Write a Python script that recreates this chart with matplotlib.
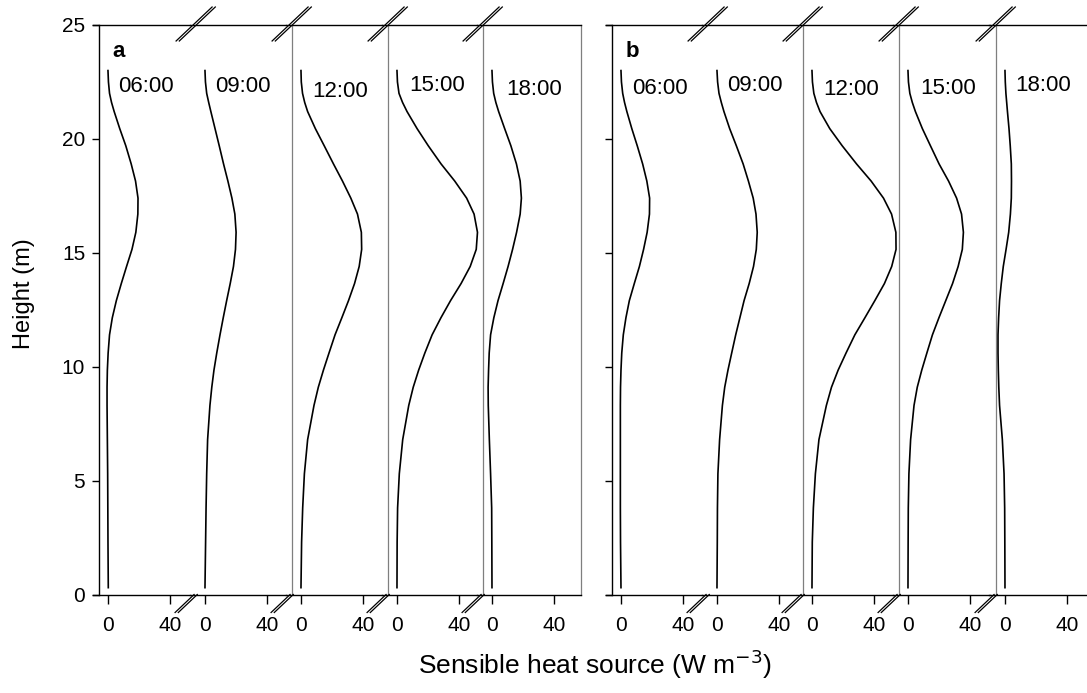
import numpy as np
import matplotlib
matplotlib.use("Agg")
import matplotlib.pyplot as plt
from matplotlib.lines import Line2D

plt.rcParams['font.family'] = ['Liberation Sans', 'DejaVu Sans']

# ---------------- data ----------------
height = [0.3, 2.3, 3.8, 5.3, 6.8, 8.3, 9.1, 9.85, 10.6, 11.4, 12.15, 12.9, 13.65,
          14.4, 15.15, 15.9, 16.7, 17.4, 18.15, 18.9, 19.7, 20.45, 21.2, 21.6,
          22.0, 22.5, 23.0]
times = ["06:00", "09:00", "12:00", "15:00", "18:00"]

a_0600 = [0.2, 0, -0.1, -0.2, -0.4, -0.6, -0.6, -0.4, 0.1, 1, 2.8, 5.4, 8.6, 12, 15.5, 18, 19.3, 19.4, 17.8, 15, 11.5, 7.6, 4, 2.3, 1, 0.3, 0]
a_0900 = [0, 0.4, 0.7, 1.1, 1.7, 3.2, 4.4, 5.8, 7.6, 9.7, 11.8, 14, 16.3, 18.4, 19.7, 20.1, 19.3, 17.4, 14.8, 12, 9.2, 6.5, 3.8, 2.4, 1.1, 0.3, 0]
a_1200 = [0, 0.4, 1.1, 2.2, 4.3, 8.4, 11.2, 14.5, 18.1, 22, 26.4, 30.7, 34.6, 37.6, 39.2, 39, 36.5, 32.2, 26.8, 21, 15, 9.3, 4.3, 2.4, 1.0, 0.2, 0]
a_1500 = [0, 0.1, 0.4, 1.5, 3.7, 7.6, 10.5, 14, 18, 22.7, 28.4, 34.6, 41.4, 47.3, 51.2, 52, 49.8, 45, 37.3, 28.5, 20.2, 13, 6.5, 3.6, 1.3, 0.3, 0]
a_1800 = [0, -0.1, -0.2, -0.9, -1.7, -2.4, -2.5, -2.2, -1.8, -0.9, 1.2, 3.9, 7.2, 10.4, 13.3, 15.9, 18.2, 19, 18.2, 15.8, 12.2, 8.2, 4.3, 2.5, 1.1, 0.3, 0]

b_0600 = [0, -0.3, -0.4, -0.4, -0.4, -0.4, -0.3, 0, 0.5, 1.5, 3.2, 5.4, 8.6, 11.9, 14.6, 16.9, 18.4, 18.5, 16.7, 14, 10.5, 7, 3.8, 2.3, 1.1, 0.3, 0]
b_0900 = [0, 0.2, 0.3, 0.6, 1.7, 3.5, 5.0, 7.1, 9.5, 12.1, 14.8, 17.5, 20.8, 23.6, 25.4, 26, 25.2, 23.4, 20.3, 16.9, 12.5, 8.2, 4.5, 2.8, 1.3, 0.4, 0]
b_1200 = [0, 0.2, 0.9, 2.2, 4.5, 9.3, 12.6, 16.9, 22, 27.7, 34.2, 40.6, 46.8, 51.5, 54.3, 54.2, 51.4, 46.2, 38.2, 28.8, 19.5, 11.5, 5.2, 2.9, 1.2, 0.3, 0]
b_1500 = [0, 0.1, 0.2, 0.6, 1.7, 3.9, 6.0, 8.9, 12.2, 15.8, 20, 24.4, 28.8, 32.4, 35.1, 35.8, 34.6, 31.4, 26.2, 20.1, 14.5, 9.3, 4.8, 2.8, 1.2, 0.3, 0]
b_1800 = [0, -0.1, -0.2, -0.6, -1.7, -3.5, -4.0, -4.3, -4.5, -4.5, -4.1, -3.5, -2.4, -1.1, 0.7, 2.4, 3.5, 4.1, 4.2, 4.1, 3.4, 2.6, 1.6, 1.1, 0.6, 0.2, 0]

panel_a = [a_0600, a_0900, a_1200, a_1500, a_1800]
panel_b = [b_0600, b_0900, b_1200, b_1500, b_1800]

xticks = [0, 40]
yticks = [0, 5, 10, 15, 20, 25]

# ---------------- layout (pixels) ----------------
W, H = 1087, 693
fig = plt.figure(figsize=(W / 100, H / 100), dpi=100)

PX_PER_UNIT = 1.548
XMIN = -10
SPINE_X = -6
Y_TOP_PX, Y_BOT_PX = 25.0, 594.5
ax_bottom = 1 - Y_BOT_PX / H
ax_height = (Y_BOT_PX - Y_TOP_PX) / H

panels = [
    dict(lefts=[92.5, 189.5, 285.5, 381.5, 476.5], right=580.5, data=panel_a,
         label="a", ylabels=True, right_edge=True,
         text_x=[6.5, 6.5, 7.0, 8.2, 9.5], text_y=[22.3, 22.3, 22.1, 22.35, 22.15]),
    dict(lefts=[605.5, 701.5, 796.5, 892.5, 989.5], right=1093.5, data=panel_b,
         label="b", ylabels=False, right_edge=False,
         text_x=[7.0, 6.5, 7.0, 7.7, 6.5], text_y=[22.2, 22.35, 22.15, 22.2, 22.35]),
]

LW_AX = 1.0
GRAY = '#7f7f7f'

def fx(px):
    return px / W

def fy(py):
    return 1 - py / H

for p in panels:
    lefts = p['lefts'] + [p['right']]
    for k in range(5):
        l, r = lefts[k], lefts[k + 1]
        width = r - l
        ax = fig.add_axes([fx(l), ax_bottom, width / W, ax_height])
        ax.set_xlim(XMIN, XMIN + width / PX_PER_UNIT)
        ax.set_ylim(0, 25)
        ax.patch.set_alpha(0)
        for s in ['left', 'right']:
            ax.spines[s].set_visible(False)
        for s in ['top', 'bottom']:
            ax.spines[s].set_linewidth(LW_AX)
            ax.spines[s].set_color('black')
        ax.set_xticks(xticks)
        ax.set_xticklabels([str(v) for v in xticks])
        ax.tick_params(axis='x', direction='out', length=6.5, width=LW_AX,
                       labelsize=15, pad=9, top=False)
        if k == 0:
            ax.spines['left'].set_visible(True)
            ax.spines['left'].set_position(('data', SPINE_X))
            ax.spines['left'].set_linewidth(LW_AX)
            ax.set_yticks(yticks)
            ax.tick_params(axis='y', direction='out', length=4.7, width=LW_AX,
                           labelsize=15, pad=5, labelleft=p['ylabels'])
            ax.text(3, 23.6, p['label'], fontsize=16, fontweight='bold',
                    ha='left', va='baseline')
        else:
            ax.set_yticks([])
            if k >= 2:
                ax.axvline(SPINE_X, color=GRAY, lw=0.9, zorder=1)
        if k == 4 and p['right_edge']:
            ax.spines['right'].set_visible(True)
            ax.spines['right'].set_color(GRAY)
            ax.spines['right'].set_linewidth(0.9)
        ax.plot(p['data'][k], height, color='black', lw=1.2, zorder=3,
                clip_on=False, solid_joinstyle='round')
        ax.text(p['text_x'][k], p['text_y'][k], times[k], fontsize=16,
                ha='left', va='center')

        # axis-break marks at the junction with the previous column
        if k >= 1:
            cx = l + (SPINE_X - XMIN) * PX_PER_UNIT
            for d in (-1.6, 1.6):
                fig.add_artist(Line2D([fx(cx - 18 + d), fx(cx + 18 + d)],
                                      [fy(Y_TOP_PX + 16), fy(Y_TOP_PX - 18)],
                                      color='black', lw=0.9,
                                      transform=fig.transFigure))
                fig.add_artist(Line2D([fx(cx - 19 + d), fx(cx + d)],
                                      [fy(Y_BOT_PX + 18), fy(Y_BOT_PX)],
                                      color='black', lw=0.9,
                                      transform=fig.transFigure))

fig.text(fx(24), fy(294), 'Height (m)', rotation=90, fontsize=17,
         ha='center', va='center')
fig.text(fx(595), fy(664), 'Sensible heat source (W m$^{-3}$)', fontsize=19,
         ha='center', va='center')

fig.savefig('out.png', dpi=100)
